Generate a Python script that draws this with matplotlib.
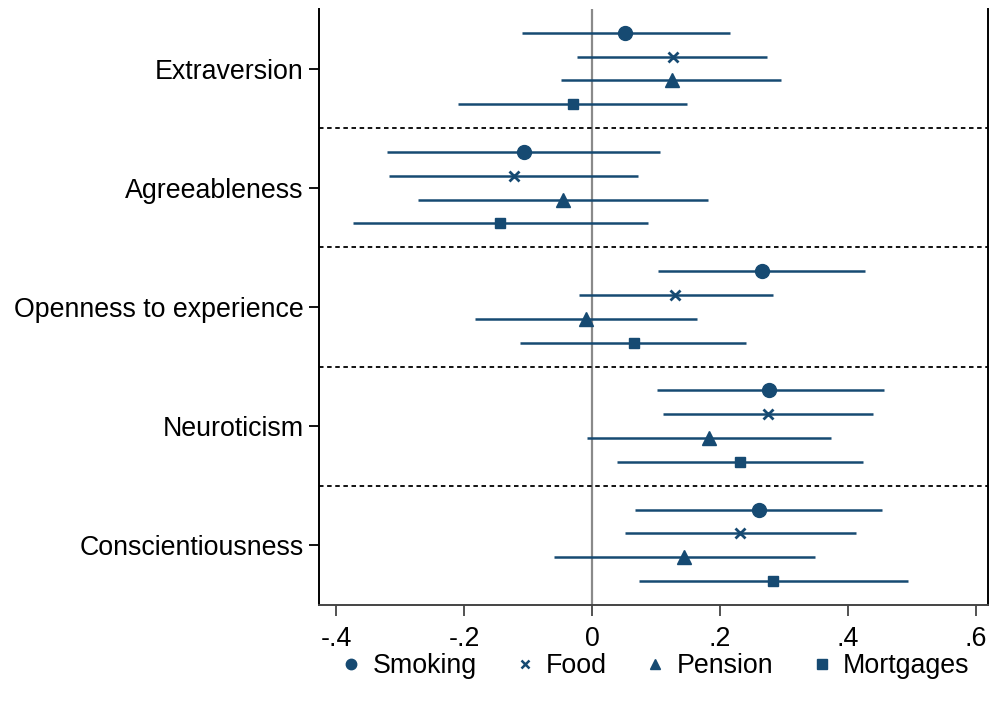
import matplotlib.pyplot as plt
from matplotlib.lines import Line2D

plt.rcParams['font.family'] = ['Liberation Sans', 'DejaVu Sans']

traits = ["Extraversion", "Agreeableness", "Openness to experience",
          "Neuroticism", "Conscientiousness"]
series = ["Smoking", "Food", "Pension", "Mortgages"]
markers = ["o", "x", "^", "s"]
msizes = [10, 7, 10, 7.5]

# point estimates and confidence limits, one list per series (trait order above)
smoking_est = [0.052, -0.107, 0.265, 0.277, 0.261]
smoking_lo = [-0.110, -0.320, 0.103, 0.101, 0.068]
smoking_hi = [0.215, 0.107, 0.426, 0.456, 0.454]

food_est = [0.126, -0.122, 0.130, 0.275, 0.232]
food_lo = [-0.023, -0.317, -0.021, 0.111, 0.052]
food_hi = [0.274, 0.072, 0.283, 0.439, 0.412]

pension_est = [0.125, -0.046, -0.009, 0.183, 0.144]
pension_lo = [-0.048, -0.272, -0.183, -0.008, -0.059]
pension_hi = [0.295, 0.181, 0.164, 0.373, 0.348]

mortgages_est = [-0.030, -0.143, 0.065, 0.232, 0.283]
mortgages_lo = [-0.210, -0.374, -0.112, 0.039, 0.074]
mortgages_hi = [0.149, 0.088, 0.241, 0.423, 0.494]

xticks = [-0.4, -0.2, 0, 0.2, 0.4, 0.6]
xticklabels = ["-.4", "-.2", "0", ".2", ".4", ".6"]

color = "#164a72"

est = [smoking_est, food_est, pension_est, mortgages_est]
lo = [smoking_lo, food_lo, pension_lo, mortgages_lo]
hi = [smoking_hi, food_hi, pension_hi, mortgages_hi]
offsets = [1.5, 0.5, -0.5, -1.5]

n = len(traits)
centers = [(n - 1 - g) * 5 + 2.5 for g in range(n)]

fig = plt.figure(figsize=(9.92, 7.13), dpi=100)
ax = fig.add_axes([0.3216, 0.1515, 0.6744, 0.836])

ax.axvline(0, color="#8a8a8a", lw=1.6, zorder=1)
for b in range(1, n):
    ax.axhline(b * 5, color="black", lw=1.3, ls=(0, (2.5, 2)), zorder=1)

for s in range(len(series)):
    ys = [c + offsets[s] for c in centers]
    ax.hlines(ys, lo[s], hi[s], color=color, lw=1.8, zorder=2)
    if markers[s] == "x":
        ax.plot(est[s], ys, ls="none", marker="x", ms=msizes[s], mew=2,
                color=color, zorder=3)
    else:
        ax.plot(est[s], ys, ls="none", marker=markers[s], ms=msizes[s],
                color=color, mec=color, zorder=3)

ax.set_xlim(-0.4266, 0.619)
ax.set_ylim(0, n * 5)
ax.set_xticks(xticks)
ax.set_xticklabels(xticklabels, fontsize=19.3)
ax.set_yticks(centers)
ax.set_yticklabels(traits, fontsize=19.3)
ax.tick_params(axis="x", length=8, width=1.3, color="#444444", pad=7)
ax.tick_params(axis="y", length=7, width=1.3, pad=4)

ax.spines["top"].set_visible(False)
for side in ["left", "bottom", "right"]:
    ax.spines[side].set_linewidth(1.4)
    ax.spines[side].set_color("black")
ax.spines["bottom"].set_color("#444444")

handles = []
for s in range(len(series)):
    if markers[s] == "x":
        h = Line2D([], [], ls="none", marker="x", ms=6, mew=1.8, color=color)
    else:
        h = Line2D([], [], ls="none", marker=markers[s], ms=7.5, color=color)
    handles.append(h)
ax.legend(handles, series, loc="center", bbox_to_anchor=(0.5, -0.103),
          ncol=4, frameon=False, fontsize=19.3, handletextpad=0.3,
          columnspacing=1.3, handlelength=1.0)

fig.savefig("out.png", dpi=100)
